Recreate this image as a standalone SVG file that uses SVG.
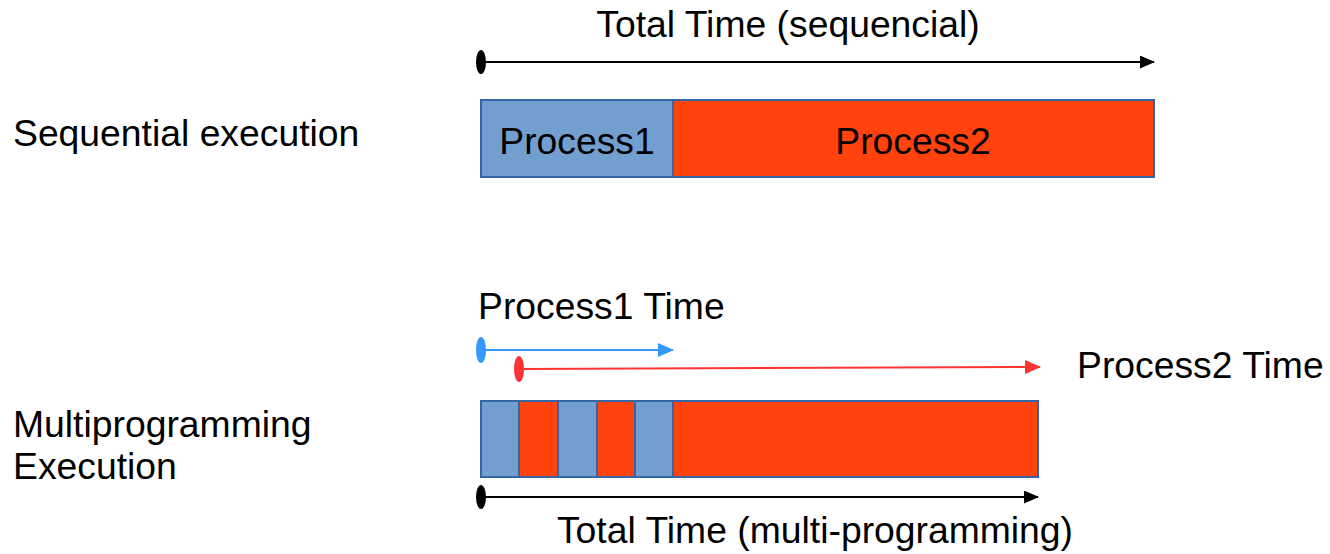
<svg xmlns="http://www.w3.org/2000/svg" width="1330" height="554" viewBox="0 0 1330 554">
<defs>
<style>
text{font-family:"Liberation Sans",Arial,sans-serif;font-size:37.3px;fill:#000}
.b{fill:#729fcf;stroke:#3465a4;stroke-width:2}
.r{fill:#ff420e;stroke:#3465a4;stroke-width:2}
.m{text-anchor:middle}
</style>
<marker id="ak" markerWidth="15" markerHeight="13" refX="14" refY="6.5" orient="auto" markerUnits="userSpaceOnUse"><path d="M0,0L15,6.5L0,13z" fill="#000"/></marker>
<marker id="ab" markerWidth="16" markerHeight="14" refX="15" refY="7" orient="auto" markerUnits="userSpaceOnUse"><path d="M0,0L16,7L0,14z" fill="#3399ff"/></marker>
<marker id="ar" markerWidth="16" markerHeight="14" refX="15" refY="7" orient="auto" markerUnits="userSpaceOnUse"><path d="M0,0L16,7L0,14z" fill="#ff3333"/></marker>
</defs>
<rect width="1330" height="554" fill="#fff"/>
<g id="labels">
<text x="13" y="146">Sequential execution</text>
<text x="13" y="437">Multiprogramming</text>
<text x="13" y="479">Execution</text>
<text x="788" y="37" class="m">Total Time (sequencial)</text>
<text x="478" y="319">Process1 Time</text>
<text x="1077" y="378">Process2 Time</text>
<text x="815" y="543" class="m">Total Time (multi-programming)</text>
</g>
<g id="seq-bar">
<rect class="b" x="481" y="100" width="192" height="77"/>
<rect class="r" x="673" y="100" width="481" height="77"/>
<text x="577" y="154" class="m">Process1</text>
<text x="913" y="154" class="m">Process2</text>
</g>
<g id="multi-bar">
<rect class="b" x="481" y="401" width="38" height="76"/>
<rect class="r" x="519" y="401" width="39" height="76"/>
<rect class="b" x="558" y="401" width="39" height="76"/>
<rect class="r" x="597" y="401" width="38" height="76"/>
<rect class="b" x="635" y="401" width="38" height="76"/>
<rect class="r" x="673" y="401" width="365" height="76"/>
</g>
<g id="connectors">
<line x1="481" y1="62" x2="1154" y2="62" stroke="#000" stroke-width="2" marker-end="url(#ak)"/>
<ellipse cx="481" cy="62" rx="5" ry="12" fill="#000"/>
<line x1="481" y1="350" x2="673" y2="350" stroke="#3399ff" stroke-width="2" marker-end="url(#ab)"/>
<ellipse cx="481" cy="350" rx="5" ry="13" fill="#3399ff"/>
<line x1="519" y1="369" x2="1040" y2="367" stroke="#ff3333" stroke-width="2" marker-end="url(#ar)"/>
<ellipse cx="519" cy="369" rx="5" ry="13" fill="#ff3333"/>
<line x1="481" y1="497" x2="1038" y2="497" stroke="#000" stroke-width="2" marker-end="url(#ak)"/>
<ellipse cx="481" cy="497" rx="5" ry="12" fill="#000"/>
</g>
</svg>
